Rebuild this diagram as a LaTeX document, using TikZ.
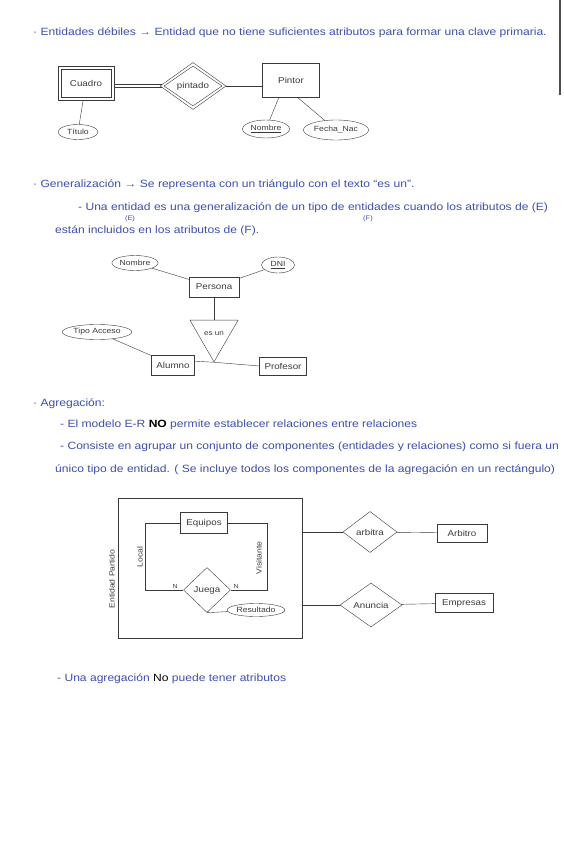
\documentclass[tikz,border=0pt]{standalone}
\usepackage{fontspec}
\setmainfont{Liberation Sans}[FakeStretch=1.15]
\usetikzlibrary{positioning,calc,shapes.geometric}
\definecolor{penblue}{HTML}{3D4FB0}
\definecolor{pencil}{HTML}{3A3A3A}

\begin{document}
\begin{tikzpicture}[x=1pt,y=-1pt,
  note/.style={anchor=west,inner sep=0pt,text=penblue,font=\fontsize{10.5}{12}\selectfont},
  tiny/.style={inner sep=0pt,text=penblue,font=\fontsize{6.5}{7}\selectfont},
  lbl/.style={inner sep=0pt,text=pencil,font=\fontsize{7.5}{9}\selectfont},
  ent/.style={draw=pencil,text=pencil,font=\fontsize{8.5}{10}\selectfont,inner sep=2pt},
  rel/.style={ent,diamond,aspect=1.3,inner sep=1pt},
  attr/.style={ent,ellipse,inner sep=1pt,font=\fontsize{7.5}{9}\selectfont},
  isa/.style={ent,regular polygon,regular polygon sides=3,shape border rotate=180,inner sep=0pt,font=\fontsize{7}{8}\selectfont},
  link/.style={draw=pencil,thin}]
\useasboundingbox[fill=white] (0,0) rectangle (564,848);
\draw[gray!60!black,line width=1.2pt] (560,0) -- (560,95);

% entidades debiles
\node[note] (l1) at (33,33) {· Entidades débiles → Entidad que no tiene suficientes atributos para formar una clave primaria.};
\node[ent,minimum width=56pt,minimum height=34pt] (cua) at (86,83) {Cuadro};
\node[ent,minimum width=50pt,minimum height=28pt] (cuain) at (86,83) {};
\node[rel,minimum width=66pt,minimum height=47pt] (pin) at (193,86) {pintado};
\node[rel,minimum width=58pt,minimum height=40pt] (pinin) at (193,86) {};
\node[ent,minimum width=57pt,minimum height=34pt] (pto) at (291,80) {Pintor};
\node[attr,minimum width=40pt,minimum height=15pt] (tit) at (78,132) {Título};
\node[attr,minimum width=47pt,minimum height=18pt] (nom) at (266,129) {\underline{Nombre}};
\node[attr,minimum width=55pt,minimum height=20pt] (fec) at (336,130) {Fecha\_Nac};
\draw[link,transform canvas={yshift=1.5pt},shorten >=-2pt] (cua.east |- pin.west) -- (pin.west);
\draw[link,transform canvas={yshift=-1.5pt},shorten >=-2pt] (cua.east |- pin.west) -- (pin.west);
\draw[link] (pin.east) -- (pin.east -| pto.west);
\draw[link] (cua) -- (tit);
\draw[link] (pto.235) -- (nom); \draw[link] (pto.290) -- (fec);

% generalizacion
\node[note] (l2) at (33,185) {· Generalización → Se representa con un triángulo con el texto “es un”.};
\node[note] (l3) at (78,208) {- Una entidad es una generalización de un tipo de entidades cuando los atributos de (E)};
\node[tiny] (le) at (130,219) {(E)};
\node[tiny] (lf) at (368,219) {(F)};
\node[note] (l4) at (55,231) {están incluidos en los atributos de (F).};
\node[ent,minimum width=50pt,minimum height=20pt] (per) at (214,287) {Persona};
\node[attr,minimum width=40pt,minimum height=15pt] (nom2) at (135,263) {Nombre};
\node[attr,minimum width=33pt,minimum height=16pt] (dni) at (278,265) {\underline{DNI}};
\node[isa,minimum size=46pt] (tri) at (214,334) {es un};
\node[ent,minimum width=43pt,minimum height=20pt] (alu) at (173,365) {Alumno};
\node[ent,minimum width=47pt,minimum height=18pt] (pro) at (283,366) {Profesor};
\node[attr,minimum width=60pt,minimum height=15pt] (tip) at (97,332) {Tipo Acceso};
\draw[link] (nom2) -- (per); \draw[link] (dni) -- (per);
\draw[link] (per) -- (tri);
\draw[link] (tri.corner 1) -- (alu.10); \draw[link] (tri.corner 1) -- (pro.west);
\draw[link] (tip) -- (alu);

% agregacion
\node[note] (l5) at (33,404) {· Agregación:};
\node[note] (l6) at (60,425) {- El modelo E-R \textcolor{black}{\textbf{NO}} permite establecer relaciones entre relaciones};
\node[note] (l7) at (60,447) {- Consiste en agrupar un conjunto de componentes (entidades y relaciones) como si fuera un};
\node[note] (l8) at (55,470) {único tipo de entidad. ( Se incluye todos los componentes de la agregación en un rectángulo)};
\node[draw=pencil,minimum width=184pt,minimum height=140pt] (agr) at (210,568) {};
\node[lbl,rotate=90] (par) at (112,579) {Entidad Partido};
\node[ent,minimum width=47pt,minimum height=21pt] (equ) at (204,523) {Equipos};
\node[rel,minimum width=47pt,minimum height=45pt] (jue) at (207,590) {Juega};
\node[attr,minimum width=45pt,minimum height=13pt] (res) at (256,610) {Resultado};
\draw[link] (equ.west) -- ++(-35,0) |- (jue.west);
\draw[link] (equ.east) -- ++(39,0) |- (jue.east);
\draw[link] (jue.south) -- (res);
\node[lbl,rotate=90] (loc) at (140,557) {Local};
\node[lbl,rotate=90] (vis) at (259,558) {Visitante};
\node[lbl,font=\fontsize{6}{7}\selectfont] (n1) at (175,586) {N};
\node[lbl,font=\fontsize{6}{7}\selectfont] (n2) at (236,586) {N};
\node[rel,minimum width=54pt,minimum height=41pt] (arb) at (370,532) {arbitra};
\node[ent,minimum width=50pt,minimum height=18pt] (arbi) at (462,533) {Arbitro};
\node[rel,minimum width=62pt,minimum height=44pt] (anu) at (371,605) {Anuncia};
\node[ent,minimum width=58pt,minimum height=19pt] (emp) at (464,603) {Empresas};
\draw[link] (agr.east |- arb.west) -- (arb.west); \draw[link] (arb) -- (arbi);
\draw[link] (agr.east |- anu.west) -- (anu.west); \draw[link] (anu) -- (emp);
\node[note] (l9) at (57,679) {- Una agregación \textcolor{black}{No} puede tener atributos};
\end{tikzpicture}
\end{document}
